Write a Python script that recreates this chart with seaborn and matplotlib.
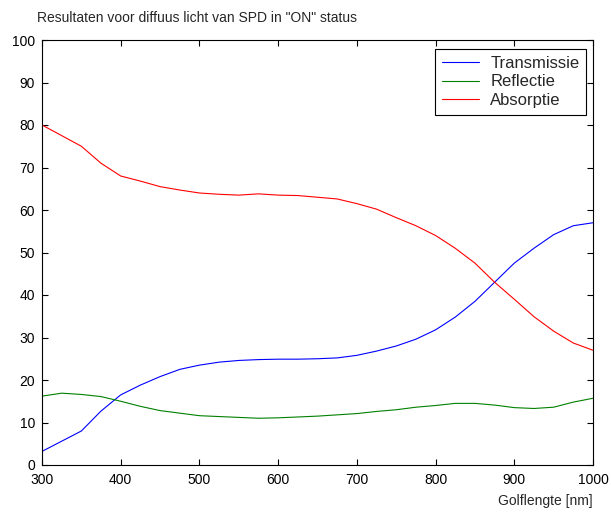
import matplotlib
matplotlib.use("Agg")
import matplotlib.pyplot as plt
import seaborn as sns
import pandas as pd

wavelength = [300, 325, 350, 375, 400, 425, 450, 475, 500, 525, 550, 575, 600, 625, 650,
              675, 700, 725, 750, 775, 800, 825, 850, 875, 900, 925, 950, 975, 1000]
transmissie = [3.2, 5.6, 8.0, 12.7, 16.5, 18.8, 20.8, 22.5, 23.5, 24.2, 24.6, 24.8, 24.9, 24.9, 25.0,
               25.2, 25.8, 26.8, 28.0, 29.6, 31.8, 34.8, 38.5, 43.0, 47.5, 51.0, 54.2, 56.3, 57.0]
reflectie = [16.2, 16.9, 16.6, 16.1, 15.0, 13.8, 12.8, 12.2, 11.6, 11.4, 11.2, 11.0, 11.1, 11.3, 11.5,
             11.8, 12.1, 12.6, 13.0, 13.6, 14.0, 14.5, 14.5, 14.1, 13.5, 13.3, 13.6, 14.8, 15.7]
absorptie = [80.0, 77.5, 75.0, 71.0, 68.0, 66.8, 65.5, 64.7, 64.0, 63.7, 63.5, 63.8, 63.5, 63.4, 63.0,
             62.6, 61.5, 60.2, 58.2, 56.3, 54.0, 51.0, 47.5, 43.0, 39.0, 34.9, 31.5, 28.7, 27.0]
series_names = ["Transmissie", "Reflectie", "Absorptie"]
series_colors = ["#0000ff", "#008000", "#ff0000"]
title = 'Resultaten voor diffuus licht van SPD in "ON" status'
xlabel = "Golflengte [nm]"
xticks = [300, 400, 500, 600, 700, 800, 900, 1000]
yticks = [0, 10, 20, 30, 40, 50, 60, 70, 80, 90, 100]

sns.set_style("ticks")
plt.rcParams['font.family'] = ['Liberation Sans', 'DejaVu Sans']
plt.rcParams['font.size'] = 10

df = pd.DataFrame({
    "x": wavelength * 3,
    "y": transmissie + reflectie + absorptie,
    "serie": [series_names[0]] * len(wavelength) + [series_names[1]] * len(wavelength)
             + [series_names[2]] * len(wavelength),
})

fig = plt.figure(figsize=(6.11, 5.12), dpi=100)
ax = fig.add_axes([42 / 611, 1 - 465 / 512, 551 / 611, 425 / 512])
sns.lineplot(data=df, x="x", y="y", hue="serie", hue_order=series_names,
             palette=series_colors, linewidth=0.8, ax=ax)

ax.set_xlim(300, 1000)
ax.set_ylim(0, 100)
ax.set_xticks(xticks)
ax.set_yticks(yticks)
ax.tick_params(direction="in", top=True, right=True, length=4.5, width=0.8,
               labelsize=10, colors="black")
ax.tick_params(axis="x", pad=6)
ax.tick_params(axis="y", pad=5)
for s in ax.spines.values():
    s.set_visible(True)
    s.set_linewidth(0.8)
    s.set_color("black")
ax.set_ylabel("")
ax.set_xlabel(xlabel, loc="right", fontsize=10, labelpad=5)

fig.text(37 / 611, 1 - 18 / 512, title, ha="left", va="center", fontsize=10)

leg = ax.legend(loc="upper right", bbox_to_anchor=((586 - 42) / 551, (465 - 49) / 425),
                frameon=True, fancybox=False, shadow=False, borderaxespad=0,
                handlelength=2.2, handletextpad=0.7, labelspacing=0.22,
                borderpad=0.4, fontsize=12)
leg.get_frame().set_edgecolor("black")
leg.get_frame().set_linewidth(0.8)
leg.get_frame().set_alpha(1)
for line in leg.get_lines():
    line.set_linewidth(0.8)

fig.savefig("out.png", dpi=100)
